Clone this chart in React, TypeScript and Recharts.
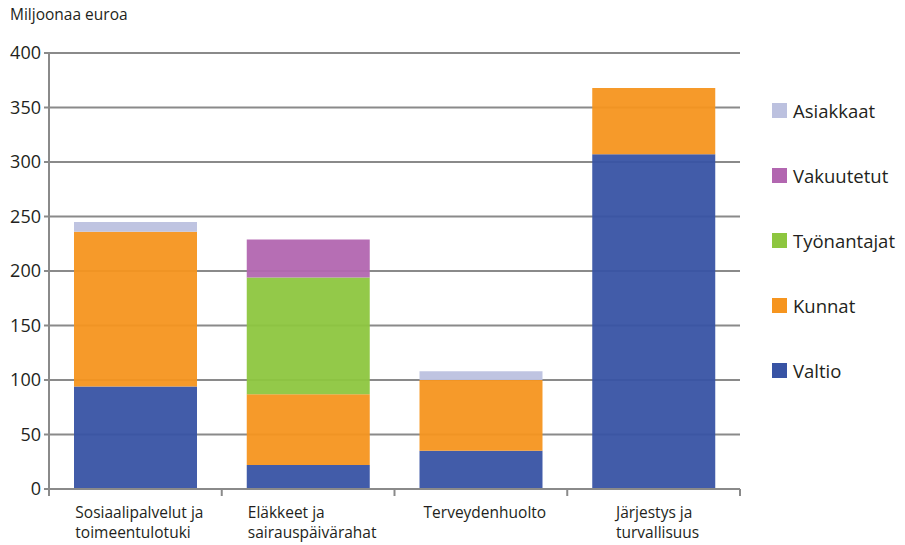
import React from "react";
import { BarChart, Bar, XAxis, YAxis, CartesianGrid } from "recharts";

// Rahoittajien osuudet tehtäväalueittain, milj. euroa
const categories = [
  "Sosiaalipalvelut ja\ntoimeentulotuki",
  "Eläkkeet ja\nsairauspäivärahat",
  "Terveydenhuolto",
  "Järjestys ja\nturvallisuus",
];
const valtio = [94, 22, 35, 307];
const kunnat = [142, 65, 65, 61];
const tyonantajat = [0, 107, 0, 0];
const vakuutetut = [0, 35, 0, 0];
const asiakkaat = [9, 0, 8, 0];
const yTicks = [0, 50, 100, 150, 200, 250, 300, 350, 400];

const series = [
  { key: "valtio", name: "Valtio", color: "#3853a4", values: valtio },
  { key: "kunnat", name: "Kunnat", color: "#f6951f", values: kunnat },
  { key: "tyonantajat", name: "Työnantajat", color: "#8dc63f", values: tyonantajat },
  { key: "vakuutetut", name: "Vakuutetut", color: "#b266b0", values: vakuutetut },
  { key: "asiakkaat", name: "Asiakkaat", color: "#bcc1df", values: asiakkaat },
];

const data = categories.map((name, i) => {
  const row: Record<string, string | number> = { name };
  series.forEach((s) => {
    row[s.key] = s.values[i];
  });
  return row;
});

const FONT = "'Open Sans', 'Noto Sans', sans-serif";
const TEXT = "#231f20";
const GRID = "#8a8a8a";
const PLOT_LEFT = 49;
const PLOT_RIGHT = 740;
const BAND = (PLOT_RIGHT - PLOT_LEFT) / categories.length;

let measureCtx: CanvasRenderingContext2D | null = null;
function textWidth(text: string, font: string) {
  if (!measureCtx) measureCtx = document.createElement("canvas").getContext("2d");
  if (!measureCtx) return text.length * 8;
  measureCtx.font = font;
  return measureCtx.measureText(text).width;
}

// Category label: lines left-aligned, block centred on the category,
// plus tick marks on the category boundaries
function CategoryTick(props: any) {
  const { x, y, payload, index } = props;
  const lines = String(payload.value).split("\n");
  const widest = Math.max(...lines.map((l) => textWidth(l, `15.5px 'Open Sans'`)));
  const startX = x - widest / 2 + 4;
  const left = x - BAND / 2;
  return (
    <g>
      <line x1={left} x2={left} y1={y - 8} y2={y - 1} stroke={GRID} strokeWidth={2} />
      {index === categories.length - 1 && (
        <line x1={left + BAND} x2={left + BAND} y1={y - 8} y2={y - 1} stroke={GRID} strokeWidth={2} />
      )}
      <text x={startX} y={y + 21} fontSize={15.5} fontFamily={FONT} fill={TEXT}>
        {lines.map((l, i) => (
          <tspan key={i} x={startX} dy={i === 0 ? 0 : 20}>
            {l}
          </tspan>
        ))}
      </text>
    </g>
  );
}

function LegendBox() {
  const items = [...series].reverse();
  return (
    <div style={{ position: "absolute", left: 772, top: 99, fontFamily: FONT }}>
      {items.map((s) => (
        <div
          key={s.key}
          style={{ display: "flex", alignItems: "center", height: 22, marginBottom: 43 }}
        >
          <span style={{ width: 15, height: 15, background: s.color, marginRight: 6 }} />
          <span style={{ fontSize: 18.5, color: TEXT }}>{s.name}</span>
        </div>
      ))}
    </div>
  );
}

export default function App() {
  return (
    <div style={{ position: "absolute", left: 0, top: 0, width: 905, height: 545, background: "#fff" }}>
      <div
        style={{
          position: "absolute",
          left: 10,
          top: 5,
          fontFamily: FONT,
          fontSize: 15.5,
          lineHeight: "18px",
          color: TEXT,
        }}
      >
        Miljoonaa euroa
      </div>
      <BarChart
        width={905}
        height={545}
        data={data}
        margin={{ top: 53, right: 905 - PLOT_RIGHT, bottom: 0, left: 0 }}
        barSize={123}
      >
        <CartesianGrid vertical={false} stroke={GRID} strokeWidth={2} />
        <XAxis
          dataKey="name"
          height={56}
          interval={0}
          axisLine={{ stroke: GRID, strokeWidth: 2 }}
          tickLine={false}
          tick={<CategoryTick />}
        />
        <YAxis
          width={PLOT_LEFT}
          domain={[0, 400]}
          ticks={yTicks}
          interval={0}
          axisLine={{ stroke: GRID, strokeWidth: 2 }}
          tickLine={{ stroke: GRID, strokeWidth: 2 }}
          tickSize={5}
          tickMargin={3}
          tick={{ fontSize: 18, fontFamily: FONT, fill: TEXT }}
        />
        {series.map((s) => (
          <Bar
            key={s.key}
            dataKey={s.key}
            name={s.name}
            stackId="a"
            fill={s.color}
            fillOpacity={0.95}
            isAnimationActive={false}
          />
        ))}
      </BarChart>
      <LegendBox />
    </div>
  );
}
